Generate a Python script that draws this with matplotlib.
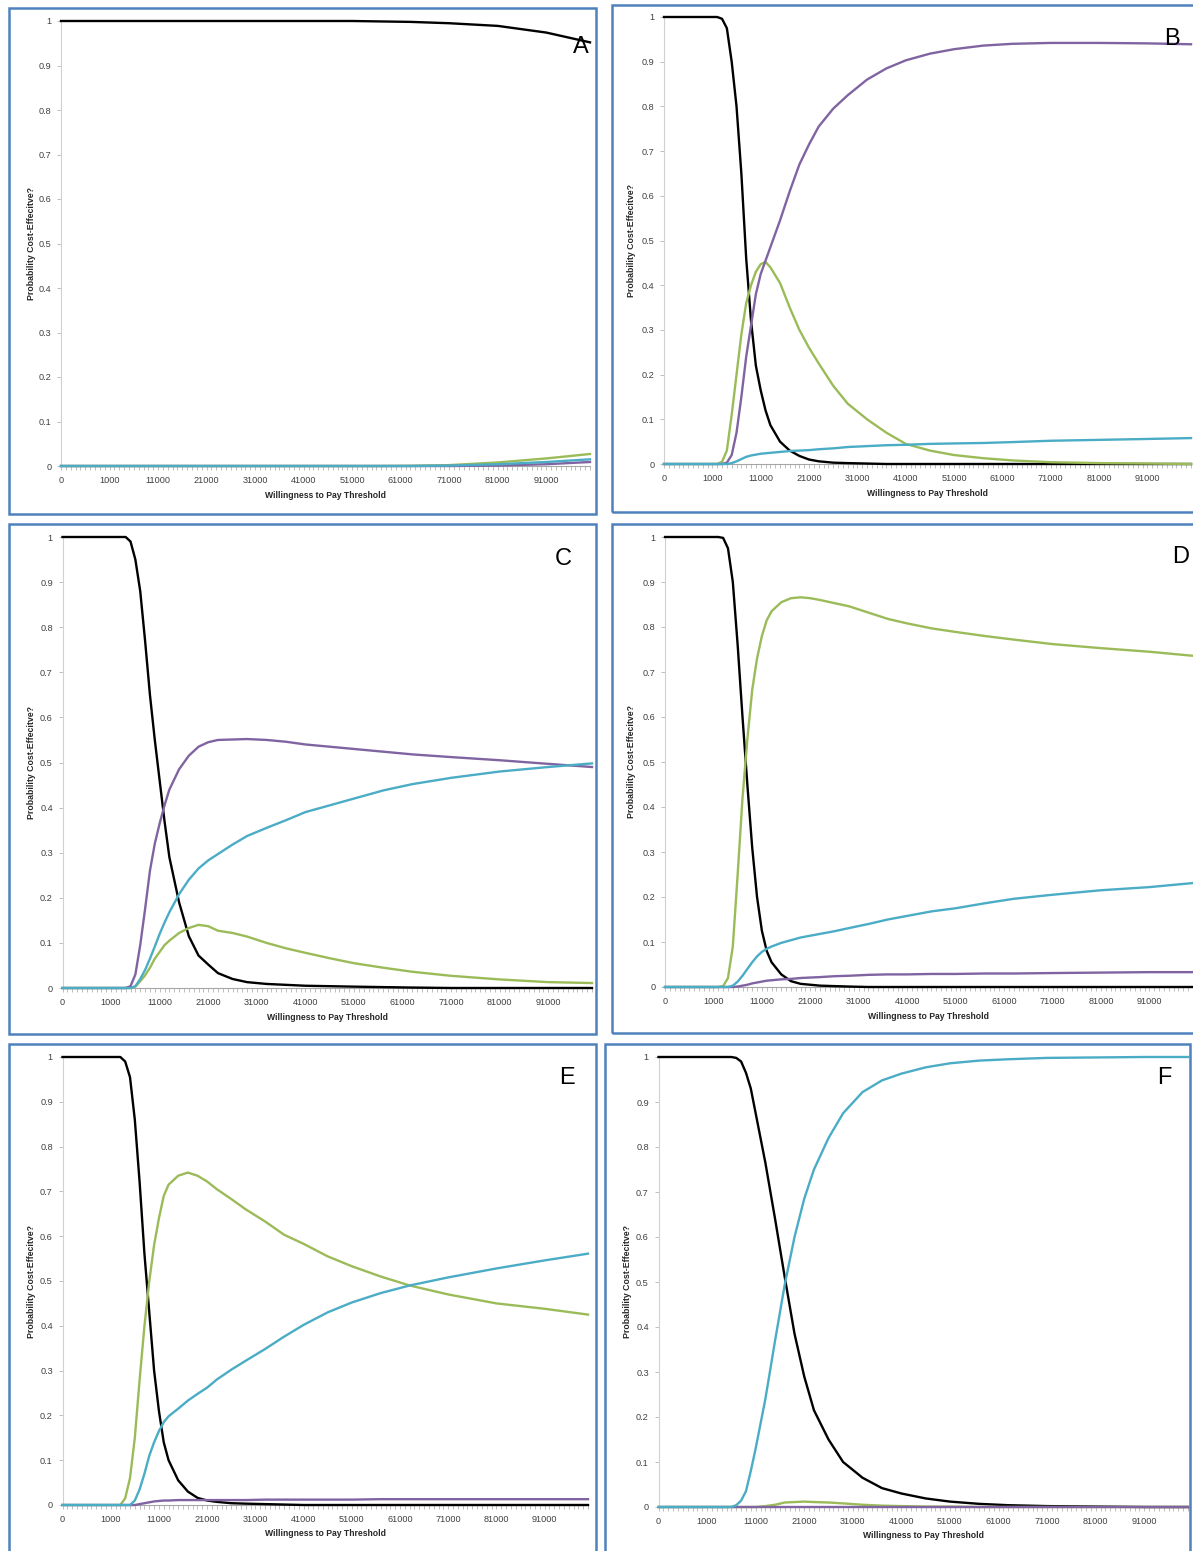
import matplotlib
matplotlib.use('Agg')
import matplotlib.pyplot as plt
from matplotlib.patches import Rectangle

W, H = 1193, 1551

# category positions on the Excel-style axis (0..109) where values were read
idx = [0, 10, 11, 12, 13, 14, 15, 16, 17, 18, 19, 20, 21, 22, 24, 26, 28, 30,
       32, 35, 38, 42, 46, 50, 55, 60, 66, 72, 80, 90, 100, 109]

tick_pos = [0, 10, 20, 30, 40, 50, 60, 70, 80, 90, 100]
tick_labels = ['0', '1000', '11000', '21000', '31000', '41000', '51000',
               '61000', '71000', '81000', '91000']

# panel A
a_black = [1, 1, 1, 1, 1, 1, 1, 1, 1, 1, 1, 1, 1, 1, 1, 1, 1, 1, 1, 1, 1, 1, 1, 1, 1, 1,
           0.999, 0.998, 0.995, 0.989, 0.974, 0.952]
a_green = [0, 0, 0, 0, 0, 0, 0, 0, 0, 0, 0, 0, 0, 0, 0, 0, 0, 0, 0, 0, 0, 0, 0, 0, 0, 0, 0,
           0.0005, 0.002, 0.008, 0.017, 0.027]
a_purple = [0, 0, 0, 0, 0, 0, 0, 0, 0, 0, 0, 0, 0, 0, 0, 0, 0, 0, 0, 0, 0, 0, 0, 0, 0, 0, 0, 0, 0,
            0.001, 0.004, 0.009]
a_cyan = [0, 0, 0, 0, 0, 0, 0, 0, 0, 0, 0, 0, 0, 0, 0, 0, 0, 0, 0, 0, 0, 0, 0, 0, 0, 0, 0, 0,
          0.001, 0.004, 0.009, 0.015]

# panel B
b_black = [1, 1, 1, 0.996, 0.975, 0.90, 0.80, 0.65, 0.46, 0.32, 0.22, 0.165, 0.12, 0.087,
           0.05, 0.03, 0.018, 0.01, 0.006, 0.003, 0.002, 0.001, 0, 0, 0, 0, 0, 0, 0, 0, 0, 0]
b_green = [0, 0, 0, 0.005, 0.03, 0.11, 0.2, 0.29, 0.36, 0.40, 0.43, 0.447, 0.452, 0.44,
           0.405, 0.35, 0.30, 0.26, 0.225, 0.175, 0.135, 0.10, 0.07, 0.045, 0.03, 0.02,
           0.013, 0.008, 0.004, 0.002, 0.001, 0]
b_purple = [0, 0, 0, 0, 0.003, 0.02, 0.07, 0.15, 0.24, 0.31, 0.38, 0.425, 0.455, 0.485,
            0.545, 0.61, 0.67, 0.715, 0.755, 0.795, 0.825, 0.86, 0.885, 0.903, 0.918, 0.928,
            0.936, 0.94, 0.942, 0.942, 0.941, 0.939]
b_cyan = [0, 0, 0, 0, 0, 0.002, 0.006, 0.011, 0.016, 0.019, 0.021, 0.023, 0.024, 0.025,
          0.027, 0.029, 0.03, 0.031, 0.033, 0.035, 0.038, 0.04, 0.042, 0.043, 0.045, 0.046,
          0.047, 0.049, 0.052, 0.054, 0.056, 0.058]

# panel C
c_black = [1, 1, 1, 1, 1, 0.99, 0.95, 0.88, 0.77, 0.65, 0.55, 0.46, 0.37, 0.29, 0.19,
           0.115, 0.072, 0.052, 0.033, 0.02, 0.013, 0.009, 0.007, 0.005, 0.004, 0.003,
           0.002, 0.001, 0, 0, 0, 0]
c_green = [0, 0, 0, 0, 0, 0, 0.003, 0.015, 0.028, 0.045, 0.065, 0.08, 0.095, 0.105, 0.122,
           0.133, 0.14, 0.137, 0.127, 0.122, 0.114, 0.1, 0.088, 0.078, 0.066, 0.055, 0.045,
           0.036, 0.027, 0.019, 0.013, 0.011]
c_purple = [0, 0, 0, 0, 0, 0.004, 0.03, 0.095, 0.175, 0.26, 0.32, 0.365, 0.405, 0.44, 0.485,
            0.515, 0.535, 0.545, 0.55, 0.551, 0.552, 0.55, 0.546, 0.54, 0.535, 0.53, 0.524,
            0.518, 0.512, 0.505, 0.497, 0.49]
c_cyan = [0, 0, 0, 0, 0, 0, 0.004, 0.02, 0.04, 0.065, 0.092, 0.12, 0.145, 0.168, 0.208,
          0.24, 0.265, 0.283, 0.297, 0.318, 0.337, 0.355, 0.372, 0.39, 0.405, 0.42, 0.438,
          0.452, 0.466, 0.48, 0.49, 0.498]

# panel D
d_black = [1, 1, 1, 0.998, 0.975, 0.9, 0.76, 0.6, 0.45, 0.31, 0.2, 0.125, 0.08, 0.055,
           0.028, 0.013, 0.007, 0.005, 0.003, 0.002, 0.001, 0, 0, 0, 0, 0, 0, 0, 0, 0, 0, 0]
d_green = [0, 0, 0, 0.002, 0.02, 0.09, 0.25, 0.42, 0.55, 0.66, 0.73, 0.78, 0.815, 0.835,
           0.855, 0.864, 0.866, 0.864, 0.86, 0.853, 0.846, 0.832, 0.818, 0.808, 0.797,
           0.789, 0.78, 0.772, 0.762, 0.753, 0.745, 0.736]
d_purple = [0, 0, 0, 0, 0, 0, 0.001, 0.003, 0.005, 0.008, 0.01, 0.012, 0.014, 0.015, 0.017,
            0.018, 0.02, 0.021, 0.022, 0.024, 0.025, 0.027, 0.028, 0.028, 0.029, 0.029,
            0.03, 0.03, 0.031, 0.032, 0.033, 0.033]
d_cyan = [0, 0, 0, 0, 0, 0.003, 0.012, 0.025, 0.04, 0.055, 0.068, 0.078, 0.085, 0.09, 0.098,
          0.104, 0.11, 0.114, 0.118, 0.124, 0.131, 0.14, 0.15, 0.158, 0.168, 0.175, 0.186,
          0.196, 0.205, 0.215, 0.222, 0.231]

# panel E
e_black = [1, 1, 1, 1, 0.99, 0.955, 0.86, 0.72, 0.56, 0.43, 0.3, 0.21, 0.14, 0.1, 0.055,
           0.03, 0.016, 0.01, 0.007, 0.004, 0.003, 0.002, 0.001, 0, 0, 0, 0, 0, 0, 0, 0, 0]
e_green = [0, 0, 0, 0, 0.015, 0.06, 0.15, 0.28, 0.40, 0.50, 0.58, 0.64, 0.69, 0.715, 0.735,
           0.742, 0.735, 0.722, 0.705, 0.683, 0.66, 0.633, 0.603, 0.583, 0.555, 0.533, 0.51,
           0.49, 0.47, 0.45, 0.438, 0.425]
e_purple = [0, 0, 0, 0, 0, 0, 0, 0.002, 0.004, 0.006, 0.008, 0.009, 0.01, 0.01, 0.011,
            0.011, 0.011, 0.011, 0.011, 0.011, 0.011, 0.012, 0.012, 0.012, 0.012, 0.012,
            0.013, 0.013, 0.013, 0.013, 0.013, 0.013]
e_cyan = [0, 0, 0, 0, 0, 0, 0.01, 0.035, 0.07, 0.11, 0.14, 0.165, 0.185, 0.198, 0.215,
          0.233, 0.248, 0.262, 0.28, 0.302, 0.322, 0.348, 0.376, 0.402, 0.43, 0.452, 0.473,
          0.49, 0.508, 0.528, 0.546, 0.561]

# panel F
f_black = [1, 1, 1, 1, 1, 1, 1, 0.998, 0.99, 0.965, 0.93, 0.875, 0.82, 0.765, 0.64, 0.51,
           0.385, 0.29, 0.215, 0.15, 0.1, 0.065, 0.042, 0.03, 0.019, 0.012, 0.007, 0.004,
           0.002, 0.001, 0, 0]
f_green = [0, 0, 0, 0, 0, 0, 0, 0, 0, 0, 0, 0, 0.001, 0.002, 0.005, 0.01, 0.011, 0.012,
           0.011, 0.01, 0.008, 0.005, 0.003, 0.002, 0.001, 0.001, 0, 0, 0, 0, 0, 0]
f_purple = [0, 0, 0, 0, 0, 0, 0, 0, 0, 0, 0, 0, 0, 0, 0, 0, 0, 0, 0, 0, 0, 0, 0, 0, 0, 0,
            0, 0, 0, 0, 0, 0]
f_cyan = [0, 0, 0, 0, 0, 0, 0, 0.004, 0.014, 0.035, 0.08, 0.13, 0.185, 0.24, 0.37, 0.495,
          0.6, 0.685, 0.75, 0.82, 0.875, 0.922, 0.948, 0.963, 0.977, 0.986, 0.992, 0.995,
          0.998, 0.999, 1.0, 1.0]

colors = {'black': '#000000', 'green': '#9BBB59', 'purple': '#8064A2', 'cyan': '#4BACC6'}

# layout in pixels: letter, box (x0, y0, x1, y1), plot (x0, x1, ytop, yzero), letter pos, ylabel x
panels = [
    ('A', (9, 8, 596, 514), (61, 590, 21, 466), (581, 47), 31,
     [a_black, a_green, a_purple, a_cyan]),
    ('B', (612, 5, 1205, 512), (664, 1191, 17, 464), (1172, 39), 632,
     [b_black, b_green, b_purple, b_cyan]),
    ('C', (9, 524, 596, 1034), (62.5, 592, 537, 988), (563, 559), 31,
     [c_black, c_green, c_purple, c_cyan]),
    ('D', (612, 524, 1205, 1033), (665, 1193, 537, 987), (1181, 557), 632,
     [d_black, d_green, d_purple, d_cyan]),
    ('E', (9, 1044, 596, 1565), (62.5, 588, 1057, 1505), (567, 1078), 31,
     [e_black, e_green, e_purple, e_cyan]),
    ('F', (605, 1044, 1190, 1565), (658.5, 1188, 1057, 1507), (1164, 1078), 627,
     [f_black, f_green, f_purple, f_cyan]),
]

plt.rcParams['font.family'] = 'Liberation Sans'

fig = plt.figure(figsize=(W / 100, H / 100), dpi=100)
fig.patch.set_facecolor('white')


def fx(px):
    return px / W


def fy(py):
    return 1 - py / H


for letter, box, plot, lpos, ylx, series in panels:
    bx0, by0, bx1, by1 = box
    fig.patches.append(Rectangle((fx(bx0), fy(by1)), fx(bx1 - bx0), (by1 - by0) / H,
                                 transform=fig.transFigure, fill=False,
                                 edgecolor='#4F81BD', linewidth=1.8, zorder=0))

    px0, px1, ptop, pzero = plot
    ax = fig.add_axes([fx(px0), fy(pzero), fx(px1 - px0), (pzero - ptop) / H])
    for vals, name in zip(series, ['black', 'green', 'purple', 'cyan']):
        ax.plot(idx, vals, color=colors[name], lw=1.7, clip_on=False, zorder=3)

    ax.set_xlim(0, 109)
    ax.set_ylim(0, 1)
    ax.set_xticks(tick_pos)
    ax.set_xticklabels(tick_labels)
    ax.set_xticks(range(0, 110), minor=True)
    ax.set_yticks([0, 0.1, 0.2, 0.3, 0.4, 0.5, 0.6, 0.7, 0.8, 0.9, 1])
    ax.set_yticklabels(['0', '0.1', '0.2', '0.3', '0.4', '0.5', '0.6', '0.7', '0.8', '0.9', '1'])
    for s in ['top', 'right']:
        ax.spines[s].set_visible(False)
    ax.spines['left'].set_color('#D0D0D0')
    ax.spines['bottom'].set_color('#A6A6A6')
    ax.tick_params(axis='x', which='both', length=3, width=0.7, color='#BFBFBF',
                   labelsize=6.6, labelcolor='#404040', pad=4)
    ax.tick_params(axis='y', length=3, width=0.7, color='#BFBFBF',
                   labelsize=6.6, labelcolor='#404040', pad=4)
    ax.patch.set_alpha(0)

    fig.text(fx((px0 + px1) / 2), fy(pzero + 29), 'Willingness to Pay Threshold',
             ha='center', va='center', fontsize=6.2, fontweight='bold', color='#262626')
    fig.text(fx(ylx), fy((ptop + pzero) / 2), 'Probability Cost-Effecitve?',
             ha='center', va='center', rotation=90, fontsize=6.3, fontweight='bold',
             color='#262626')
    fig.text(fx(lpos[0]), fy(lpos[1]), letter, ha='center', va='center', fontsize=17,
             color='black')

fig.savefig('out.png', dpi=100)
